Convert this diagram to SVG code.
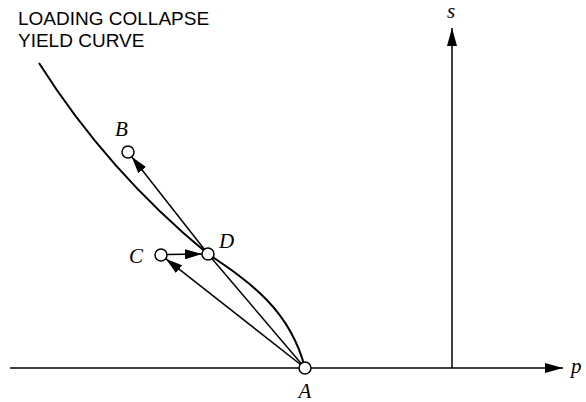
<svg xmlns="http://www.w3.org/2000/svg" width="586" height="402" viewBox="0 0 586 402">
<style>
.ln{stroke:#000;stroke-width:1.5;fill:none}
.cv{stroke:#000;stroke-width:2;fill:none}
.nd{fill:#fff;stroke:#000;stroke-width:1.5}
.it{font-family:"Liberation Serif","Times New Roman",serif;font-style:italic;font-size:21px;fill:#000}
.cap{font-family:"Liberation Sans",Arial,sans-serif;font-size:19px;fill:#000}
</style>
<defs>
<marker id="ah" viewBox="0 0 18 10" refX="18" refY="5" markerWidth="18" markerHeight="10" markerUnits="userSpaceOnUse" orient="auto">
<path d="M0,0 L18,5 L0,10 z" fill="#000"/>
</marker>
<marker id="sh" viewBox="0 0 17 10" refX="17" refY="5" markerWidth="17" markerHeight="10" markerUnits="userSpaceOnUse" orient="auto">
<path d="M0,0 L17,5 L0,10 z" fill="#000"/>
</marker>
</defs>
<g id="axes">
<line class="ln" x1="10" y1="368" x2="563" y2="368" marker-end="url(#ah)"/>
<line class="ln" x1="452" y1="368" x2="452" y2="28" marker-end="url(#ah)"/>
<text class="it" x="571" y="373">p</text>
<text class="it" x="447" y="18">s</text>
</g>
<g id="yield-curve">
<path class="cv" d="M39,63 C75,120 130,190 208,254 C250,282 290,310 305,368"/>
<text class="cap" x="18" y="25">LOADING COLLAPSE</text>
<text class="cap" x="18" y="47">YIELD CURVE</text>
</g>
<g id="connectors">
<line class="ln" x1="208" y1="254" x2="305" y2="368"/>
<line class="ln" x1="305" y1="368" x2="165.7" y2="258.7" marker-end="url(#sh)"/>
<line class="ln" x1="208" y1="254" x2="131.7" y2="156.7" marker-end="url(#sh)"/>
<line class="ln" x1="167" y1="254.5" x2="202" y2="254" marker-end="url(#sh)"/>
</g>
<g id="A">
<circle class="nd" cx="305" cy="368" r="6"/>
<text class="it" x="305" y="398" text-anchor="middle">A</text>
</g>
<g id="B">
<circle class="nd" cx="128" cy="152" r="6"/>
<text class="it" x="115" y="136">B</text>
</g>
<g id="C">
<circle class="nd" cx="161" cy="255" r="6"/>
<text class="it" x="129" y="263">C</text>
</g>
<g id="D">
<circle class="nd" cx="208" cy="254" r="6"/>
<text class="it" x="219" y="248">D</text>
</g>
</svg>
